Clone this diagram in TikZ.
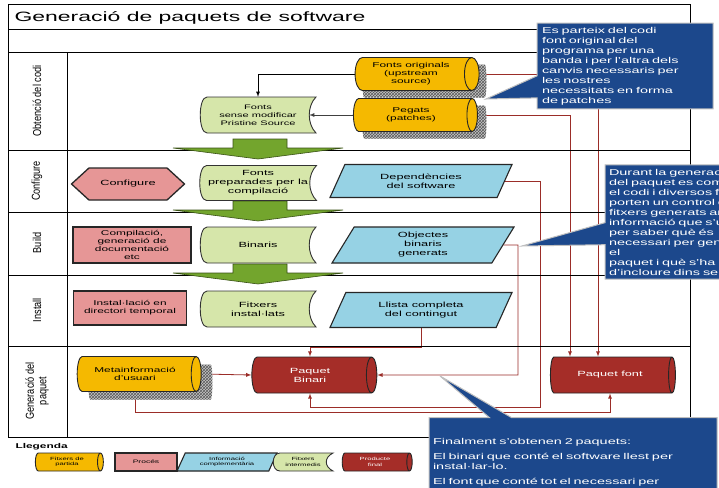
\documentclass[tikz,border=0pt]{standalone}
\usepackage{fontspec}
\setmainfont{Liberation Sans}[FakeStretch=1.7]
\newfontfamily\lanefont{Liberation Sans}[FakeStretch=0.8]
\usepackage{tikz}
\usetikzlibrary{arrows,shapes.geometric,shapes.symbols,shapes.callouts,patterns,backgrounds}

\definecolor{srcorange}{RGB}{245,185,0}
\definecolor{docgreen}{RGB}{214,230,170}
\definecolor{procred}{RGB}{230,150,150}
\definecolor{infoblue}{RGB}{150,210,228}
\definecolor{pkgred}{RGB}{165,45,40}
\definecolor{noteblue}{RGB}{28,72,140}
\definecolor{linkred}{RGB}{155,45,40}
\definecolor{flowgreen}{RGB}{115,165,45}

\tikzset{
	frame/.style={draw=black, line width=1pt},
	lanelabel/.style={rotate=90, align=center, font=\lanefont\fontsize{11.5}{12.5}\selectfont},
	proc/.style={rectangle, draw=black!85, line width=1.3pt, fill=procred, align=center, font=\fontsize{7}{8}\selectfont},
	hexproc/.style={signal, signal to=west and east, signal pointer angle=85, draw=black!85, line width=1.3pt, fill=procred, font=\fontsize{7.5}{9}\selectfont},
	info/.style={trapezium, trapezium left angle=55, trapezium right angle=125, trapezium stretches body, draw=black!85, line width=1.1pt, fill=infoblue, align=center, font=\fontsize{7.5}{9}\selectfont},
	docshape/.style={draw=black!80, line width=0.9pt, fill=docgreen},
	doctext/.style={align=center},
	cylsize/.style 2 args={minimum height=#1, minimum width=#2},
	srcfile/.style={cylinder, shape aspect=0.5, draw=black!85, line width=0.9pt, fill=srcorange, align=center, font=\fontsize{7}{8}\selectfont},
	pkg/.style={cylinder, shape aspect=0.5, draw=black!85, line width=0.9pt, fill=pkgred, text=white, align=center, font=\fontsize{7.5}{9}\selectfont},
	cylshadow/.style={cylinder, shape aspect=0.5, preaction={fill=gray!45}, pattern=crosshatch, pattern color=black!65},
	link/.style={draw=linkred, line width=0.8pt, -latex},
	flow/.style={fill=flowgreen, draw=flowgreen!50!black, line width=0.6pt},
	note/.style={rectangle callout, callout pointer width=22pt, fill=noteblue, draw=gray!50, line width=1pt, text=white, align=left, inner sep=4pt, font=\fontsize{8.5}{10}\selectfont}
}

% green "stored data" box: [font], name, centre, width, height, text
\newcommand{\datadoc}[6][\fontsize{7.5}{9}\selectfont]{%
	\draw[docshape, shift={(#3)}] (-#4/2+7,-#5/2) -- (#4/2,-#5/2)
	.. controls (#4/2-9,-#5/4) and (#4/2-9,#5/4) .. (#4/2,#5/2)
	-- (-#4/2+7,#5/2)
	.. controls (-#4/2-2,#5/2) and (-#4/2-2,-#5/2) .. cycle;
	\node[doctext, font=#1, minimum width=#4, minimum height=#5] (#2) at (#3) {#6};}

\begin{document}
\begin{tikzpicture}[x=1pt,y=-1pt]
	\useasboundingbox (0,0) rectangle (719,487);
	\begin{scope}[on background layer]
		\fill[white] (0,0) rectangle (719,487);
	\end{scope}
	% swimlanes
	\draw[frame] (8,5) rectangle (690,437);
	\foreach \yy in {30,53,150,212,275,346} % lane borders
	\draw[frame] (8,\yy) -- (690,\yy);
	\draw[frame] (67,53) -- (67,437);
	\node[anchor=west, font=\fontsize{13.5}{15}\selectfont] (title) at (11,18) {Generació de paquets de software};
	\node[lanelabel] (lcode) at (37,101) {Obtenció del codi};
	\node[lanelabel] (lconf) at (37,181) {Configure};
	\node[lanelabel] (lbuild) at (37,243) {Build};
	\node[lanelabel] (linst) at (37,310) {Install};
	\node[lanelabel] (lpkg) at (37,391) {Generació del\\paquet};
	% big green arrows between the lanes
	\foreach \b in {150,212,275}
	\draw[flow] (233,\b-11) -- (287,\b-11) -- (287,\b-2) -- (343,\b-2) -- (258,\b+9) -- (173,\b-2) -- (233,\b-2) -- cycle;
	% obtenció del codi
	\node[cylshadow, cylsize={124}{33}] (upsh) at (423,81) {};
	\node[cylshadow, cylsize={124}{33}] (patsh) at (423,122) {};
	\node[srcfile, cylsize={124}{33}] (upstream) at (411,74) {Fonts originals\\(upstream\\source)};
	\node[srcfile, cylsize={124}{33}] (patches) at (411,115) {Pegats\\(patches)};
	\datadoc[\fontsize{6.5}{8}\selectfont]{pristine}{258,115}{116}{36}{Fonts\\sense modificar\\Pristine Source}
	% configure
	\node[hexproc, minimum width=113, minimum height=32] (configure) at (128,184) {Configure};
	\datadoc{prepared}{258,183}{117}{35}{Fonts\\preparades per la\\compilació}
	\node[info, minimum width=182, minimum height=33] (deps) at (421,181) {Dependències\\del software};
	% build
	\node[proc, minimum width=118, minimum height=36] (compile) at (132,245) {Compilació,\\generació de\\documentació\\etc};
	\datadoc{binaries}{258,245}{116}{36}{Binaris}
	\node[info, minimum width=182, minimum height=36] (objs) at (423,245) {Objectes\\binaris\\generats};
	% install
	\node[proc, minimum width=113, minimum height=34] (install) at (130,308) {Instal·lació en\\directori temporal};
	\datadoc{installed}{258,309}{116}{36}{Fitxers\\instal·lats};
	\node[info, minimum width=182, minimum height=35] (llista) at (421,310) {Llista completa\\del contingut};
	% generació del paquet
	\node[cylshadow, cylsize={124}{35}] (metash) at (149,382) {};
	\node[srcfile, cylsize={124}{35}] (meta) at (135,374) {Metainformació\\d'usuari};
	\node[pkg, cylsize={125}{36}] (binari) at (310,375) {Paquet\\Binari};
	\node[pkg, cylsize={125}{36}] (font) at (610,375) {Paquet font};
	% connectors
	\begin{scope}[on background layer]
		\draw[link, draw=black] (upstream.west) -| (pristine.north);
		\draw[link, draw=gray!50!black] (patches.west) -- ([xshift=-7pt]pristine.east);
		\draw[link] (upstream.east) -| ([xshift=-12pt]font.north);
		\draw[link] (patches.east) -| ([xshift=-40pt]font.north);
		\draw[link] (deps.east) -| (540,407) -| (binari.south);
		\draw[link] (objs.east) -| (518,375) -- (binari.east);
		\draw[link] (llista.south) -- ++(0,19) -| (binari.north);
		\draw[link] (meta.south) -- ++(0,20) -| (font.south);
		\draw[link] (meta.east) -- (binari.west);
	\end{scope}
	% llegenda
	\node[anchor=west, font=\bfseries\fontsize{7}{8}\selectfont] (legtitle) at (12,447) {Llegenda};
	\node[srcfile, cylsize={68}{18}, inner sep=1pt, font=\fontsize{4.5}{5.5}\selectfont] (legsrc) at (67,462) {Fitxers de\\partida};
	\node[proc, minimum width=62, minimum height=18, inner sep=1pt, font=\fontsize{5}{6}\selectfont] (legproc) at (146,462) {Procés};
	\node[info, minimum width=100, minimum height=18, inner sep=1pt, font=\fontsize{4.5}{5.5}\selectfont] (leginfo) at (227,462) {Informació\\complementària};
	\datadoc[\fontsize{4.5}{5.5}\selectfont]{legdoc}{303,462}{60}{18}{Fitxers\\intermedis}
	\node[pkg, cylsize={70}{18}, inner sep=1pt, font=\fontsize{4.5}{5.5}\selectfont] (legpkg) at (375,462) {Producte\\final};
	% notes
	\node[note, minimum width=176, minimum height=83, text width=166, callout absolute pointer={(486,99)}] (note1) at (625,66)
	{Es parteix del codi\\font original del\\programa per una\\banda i per l'altra dels\\canvis necessaris per\\les nostres\\necessitats en forma\\de patches};
	\node[note, minimum height=105, text width=150, callout absolute pointer={(522,246)}] (note2) at (684,222)
	{Durant la generació\\del paquet es compila\\el codi i diversos fitxers\\porten un control dels\\fitxers generats amb\\informació que s'utilitza\\per saber què és\\necessari per generar el\\paquet i què s'ha\\d'incloure dins seu};
	\node[note, anchor=north, minimum height=100, text width=280, callout absolute pointer={(440,376)}] (note3) at (573,417)
	{Finalment s'obtenen 2 paquets:\\[5pt]El binari que conté el software llest per\\instal·lar-lo.\\[5pt]El font que conté tot el necessari per\\generar-lo de nou.};
\end{tikzpicture}
\end{document}
